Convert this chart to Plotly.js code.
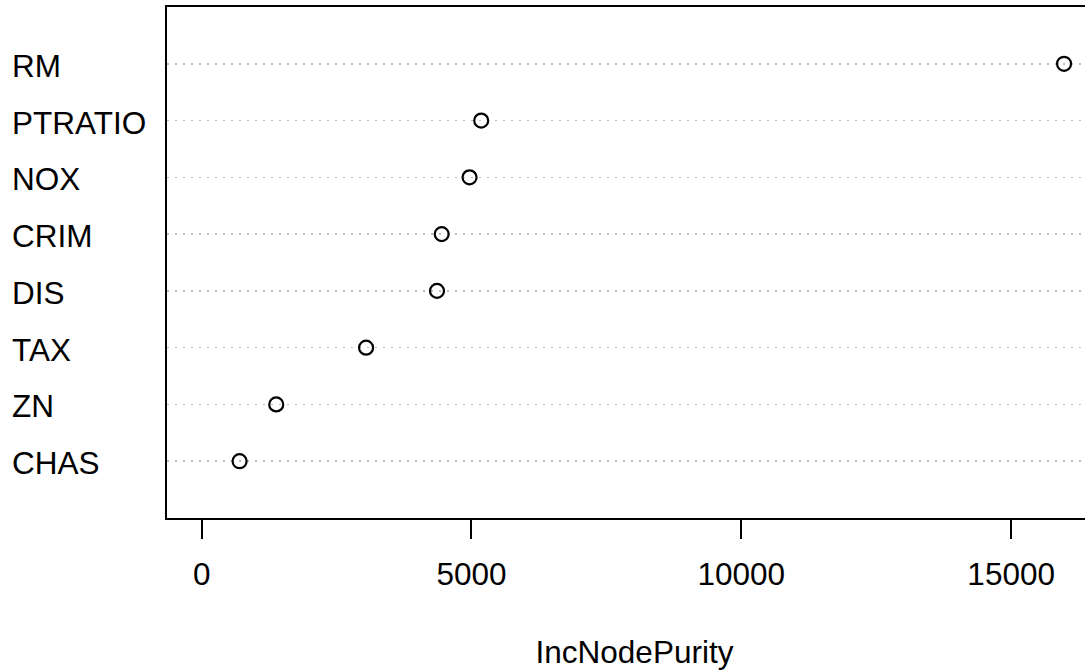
<!DOCTYPE html>
<html>
<head>
<meta charset="utf-8">
<script src="https://cdn.plot.ly/plotly-3.0.1.min.js"></script>
<style>
html, body { margin:0; padding:0; overflow:hidden; background:#fff; width:1085px; height:670px; }
#chart { width:1110px; height:670px; }
</style>
</head>
<body>
<div id="chart"></div>
<script>
// Variables ordered bottom to top
const variables = ["CHAS", "ZN", "TAX", "DIS", "CRIM", "NOX", "PTRATIO", "RM"];
const incNodePurity = [703, 1382, 3047, 4361, 4448, 4964, 5180, 15980];
const xTickVals = [0, 5000, 10000, 15000];
const xTickText = ["0", "5000", "10000", "15000"];
const xLabel = "IncNodePurity";

const FONT = "Liberation Sans, Arial, Helvetica, sans-serif";
const FS = 31.5;

const trace = {
  type: "scatter",
  mode: "markers",
  x: incNodePurity,
  y: variables,
  marker: {
    symbol: "circle-open",
    size: 14,
    color: "#000",
    line: { color: "#000", width: 2.2 }
  },
  hoverinfo: "x+y",
  showlegend: false
};

const annotations = variables.map(v => ({
  xref: "paper", yref: "y",
  x: -0.168, y: v,
  xanchor: "left", yanchor: "middle",
  text: v, showarrow: false,
  yshift: -2,
  font: { family: FONT, size: FS, color: "#000" }
}));

const layout = {
  width: 1110, height: 670,
  margin: { l: 167, r: 8, t: 7, b: 152, pad: 0 },
  paper_bgcolor: "#fff", plot_bgcolor: "#fff",
  font: { family: FONT, size: FS, color: "#000" },
  xaxis: {
    range: [-642, 16683],
    tickvals: xTickVals, ticktext: xTickText,
    ticks: "outside", ticklen: 19, tickwidth: 2, tickcolor: "#000",
    ticklabelstandoff: 8,
    showgrid: false, zeroline: false,
    showline: true, mirror: true, linecolor: "#000", linewidth: 2,
    tickfont: { family: FONT, size: FS, color: "#000" },
    title: { text: xLabel, font: { family: FONT, size: FS, color: "#000" }, standoff: 56 }
  },
  yaxis: {
    type: "category",
    categoryorder: "array", categoryarray: variables,
    range: [-1, 8],
    showticklabels: false, ticks: "",
    showgrid: true, gridcolor: "#bebebe", gridwidth: 1.5, griddash: "2px,6px",
    zeroline: false,
    showline: true, mirror: true, linecolor: "#000", linewidth: 2
  },
  annotations: annotations
};

Plotly.newPlot("chart", [trace], layout, { displayModeBar: false, staticPlot: true });
</script>
</body>
</html>
